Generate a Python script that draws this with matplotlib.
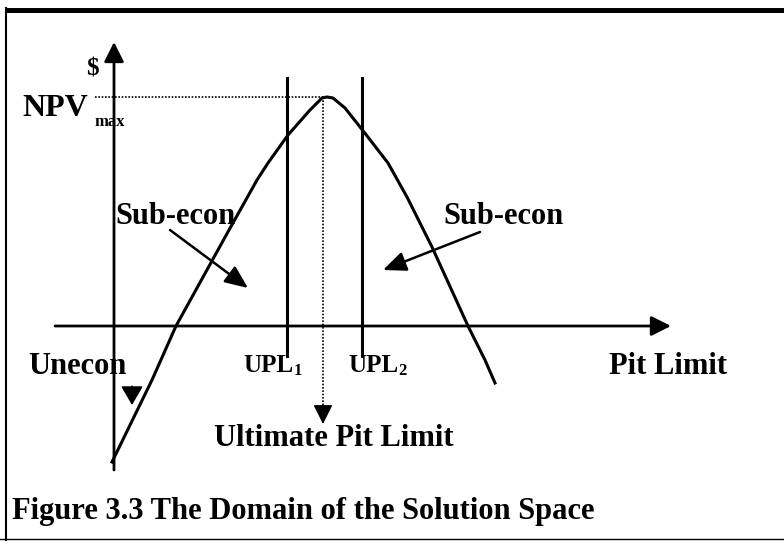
import matplotlib
matplotlib.use("Agg")
import matplotlib.pyplot as plt

# curve (pixel coords, y down)
curve_x = [112, 152, 176, 229, 257, 268, 288, 310, 322, 327, 333, 345, 364, 388, 407, 432, 468, 485, 495]
curve_y = [462, 380, 326, 230, 180, 163, 135, 110, 98, 97, 98, 108, 132, 163, 197, 247, 326, 360, 383]

upl_x = [287, 362]
upl_labels = ["UPL", "UPL"]
upl_subs = ["1", "2"]
peak_x, peak_y = 323, 97

plt.rcParams['font.family'] = ['Liberation Serif', 'DejaVu Serif']
plt.rcParams['font.weight'] = 'bold'

fig = plt.figure(figsize=(7.84, 5.44), dpi=100)
ax = fig.add_axes([0, 0, 1, 1])
ax.set_xlim(0, 784)
ax.set_ylim(544, 0)
ax.axis("off")

# frame
ax.plot([6, 784], [10, 10], color="k", lw=3.6, solid_capstyle="butt")
ax.plot([6, 6], [8, 540], color="k", lw=1.5)
ax.plot([0, 784], [539, 539], color="k", lw=1.0)


def arrow(tail, tip, lw=2.0, hl=0.6, hw=0.3):
    ax.annotate("", xy=tip, xytext=tail,
                arrowprops=dict(arrowstyle="-|>,head_length=%s,head_width=%s" % (hl, hw),
                                mutation_scale=20, lw=lw, color="k",
                                shrinkA=0, shrinkB=0))


# axes
arrow((114, 470), (114, 42))
arrow((55, 326), (671, 326))

# dotted guides
ax.plot([95, peak_x], [peak_y, peak_y], color="k", lw=1.2, ls=(0, (1, 1)))
ax.plot([peak_x, peak_x], [peak_y, 410], color="k", lw=1.2, ls=(0, (1, 1)))
arrow((peak_x, 405), (peak_x, 424), lw=1.0)

# curve and UPL lines
ax.plot(curve_x, curve_y, color="k", lw=2.2, solid_joinstyle="round")
for x in upl_x:
    ax.plot([x, x], [78, 356], color="k", lw=2.2)

# labels
fs = 22
ax.text(92, 69, "$", fontsize=18, ha="center", va="center")
ax.text(22, 108, "NPV", fontsize=23, ha="left", va="center")
ax.text(95, 122, "max", fontsize=12, ha="left", va="center")

ax.text(115, 216, "Sub-econ", fontsize=fs, ha="left", va="center")
arrow((170, 230), (248, 288), lw=1.8, hl=0.7, hw=0.3)
ax.text(443, 216, "Sub-econ", fontsize=fs, ha="left", va="center")
arrow((480, 232), (383, 270), lw=1.8, hl=0.7, hw=0.3)

ax.text(28, 366, "Unecon", fontsize=fs, ha="left", va="center")
arrow((132, 386), (132, 405), lw=1.0, hl=0.6, hw=0.35)

for x0, xs, lab, sub in zip([243, 348], [294, 398], upl_labels, upl_subs):
    ax.text(x0, 366, lab, fontsize=18, ha="left", va="center")
    ax.text(xs, 371, sub, fontsize=12, ha="left", va="center")

ax.text(609, 366, "Pit Limit", fontsize=fs, ha="left", va="center")
ax.text(334, 438, "Ultimate Pit Limit", fontsize=fs, ha="center", va="center")
ax.text(12, 512, "Figure 3.3 The Domain of the Solution Space", fontsize=fs, ha="left", va="center")

fig.savefig("out.png", dpi=100)
